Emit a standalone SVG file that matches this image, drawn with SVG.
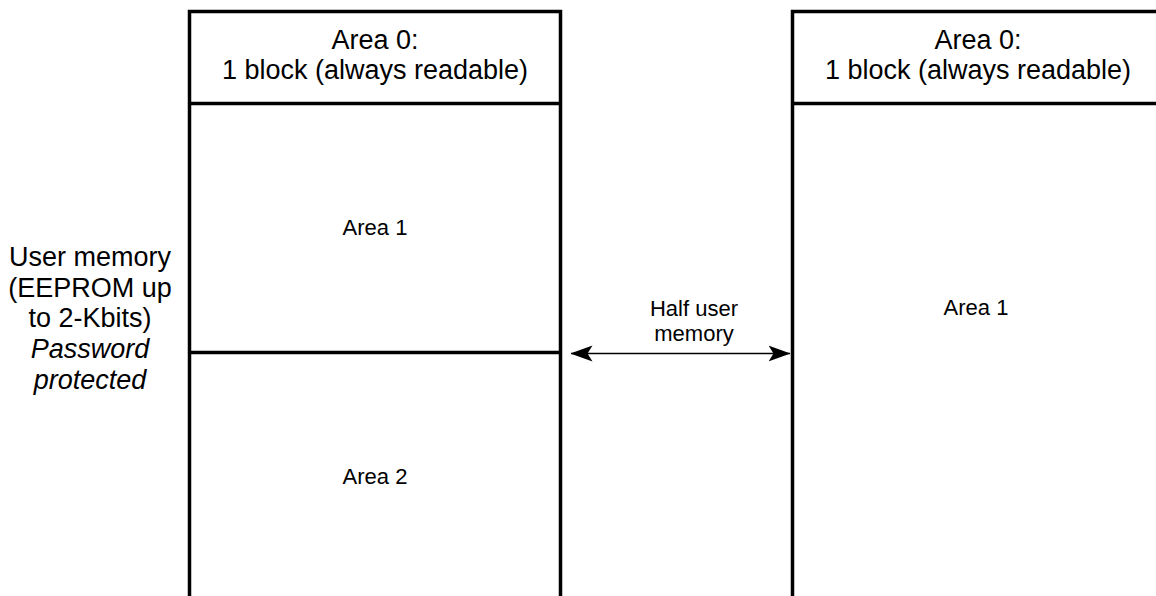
<svg xmlns="http://www.w3.org/2000/svg" width="1156" height="596" viewBox="0 0 1156 596">
<style>
.ln{stroke:#000;stroke-width:3.5;fill:none}
.big{font-family:"Liberation Sans",Arial,sans-serif;font-size:27px;fill:#000;text-anchor:middle}
.sm{font-family:"Liberation Sans",Arial,sans-serif;font-size:22px;fill:#000;text-anchor:middle}
.it{font-style:italic}
.conn{stroke:#000;stroke-width:1.6;fill:none}
</style>
<defs>
<marker id="ah" viewBox="0 0 22 18" refX="21.5" refY="9" markerWidth="22" markerHeight="18" markerUnits="userSpaceOnUse" orient="auto-start-reverse">
<path d="M0,1 L22,9 L0,17 L5,9 Z" fill="#000"/>
</marker>
</defs>
<rect width="1156" height="596" fill="#fff"/>
<g id="label-user-memory">
<text class="big" x="90" y="266">User memory</text>
<text class="big" x="90" y="297">(EEPROM up</text>
<text class="big" x="90" y="327">to 2-Kbits)</text>
<text class="big it" x="90" y="358">Password</text>
<text class="big it" x="90" y="389">protected</text>
</g>
<g id="left-memory">
<path class="ln" d="M189.5,600 V11.5 H560.5 V600"/>
<line class="ln" x1="189.5" y1="103.5" x2="560.5" y2="103.5"/>
<line class="ln" x1="189.5" y1="352.5" x2="560.5" y2="352.5"/>
<text class="big" x="375" y="49">Area 0:</text>
<text class="big" x="375" y="79">1 block (always readable)</text>
<text class="sm" x="375" y="235">Area 1</text>
<text class="sm" x="375" y="484">Area 2</text>
</g>
<g id="right-memory">
<path class="ln" d="M792.5,600 V11.5 H1165"/>
<line class="ln" x1="792.5" y1="103.5" x2="1165" y2="103.5"/>
<text class="big" x="978" y="49">Area 0:</text>
<text class="big" x="978" y="79">1 block (always readable)</text>
<text class="sm" x="976" y="315">Area 1</text>
</g>
<g id="connectors">
<line class="conn" x1="571" y1="353.5" x2="790" y2="353.5" marker-start="url(#ah)" marker-end="url(#ah)"/>
<text class="sm" x="694" y="316">Half user</text>
<text class="sm" x="694" y="341">memory</text>
</g>
</svg>
